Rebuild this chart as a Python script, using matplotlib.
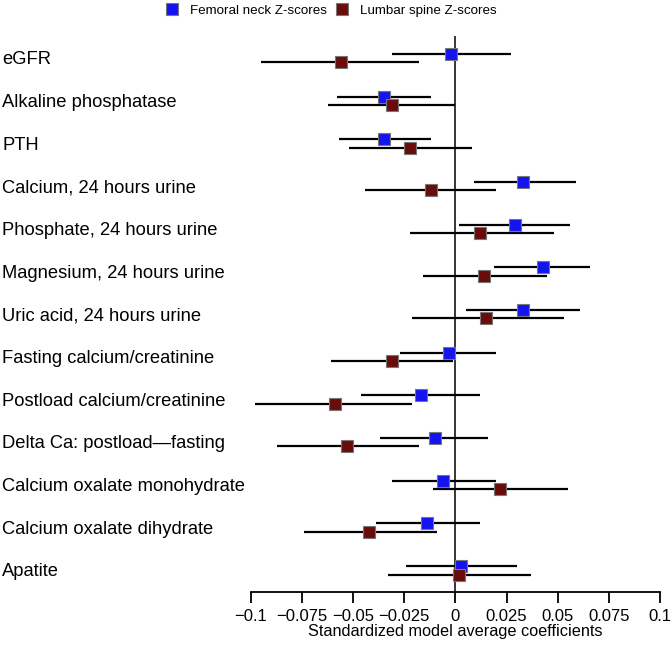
import matplotlib.pyplot as plt
from matplotlib.lines import Line2D
from matplotlib.transforms import blended_transform_factory

labels = ['eGFR', 'Alkaline phosphatase', 'PTH', 'Calcium, 24 hours urine',
          'Phosphate, 24 hours urine', 'Magnesium, 24 hours urine',
          'Uric acid, 24 hours urine', 'Fasting calcium/creatinine',
          'Postload calcium/creatinine', 'Delta Ca: postload\u2014fasting',
          'Calcium oxalate monohydrate', 'Calcium oxalate dihydrate', 'Apatite']

# femoral neck Z-scores: estimate, lower, upper
fn_est = [-0.002, -0.035, -0.035, 0.033, 0.029, 0.043, 0.033, -0.003, -0.017, -0.010, -0.006, -0.014, 0.003]
fn_lo = [-0.031, -0.058, -0.057, 0.009, 0.002, 0.019, 0.005, -0.027, -0.046, -0.037, -0.031, -0.039, -0.024]
fn_hi = [0.027, -0.012, -0.012, 0.059, 0.056, 0.066, 0.061, 0.020, 0.012, 0.016, 0.020, 0.012, 0.030]

# lumbar spine Z-scores: estimate, lower, upper
ls_est = [-0.056, -0.031, -0.022, -0.012, 0.012, 0.014, 0.015, -0.031, -0.059, -0.053, 0.022, -0.042, 0.002]
ls_lo = [-0.095, -0.062, -0.052, -0.044, -0.022, -0.016, -0.021, -0.061, -0.098, -0.087, -0.011, -0.074, -0.033]
ls_hi = [-0.018, 0.000, 0.008, 0.020, 0.048, 0.045, 0.053, -0.001, -0.021, -0.018, 0.055, -0.009, 0.037]

xticks = [-0.1, -0.075, -0.05, -0.025, 0, 0.025, 0.05, 0.075, 0.1]
xticklabels = ['\u22120.1', '\u22120.075', '\u22120.05', '\u22120.025', '0', '0.025', '0.05', '0.075', '0.1']

plt.rcParams['font.family'] = ['Liberation Sans', 'DejaVu Sans']

blue = '#1414f0'
red = '#6a0c0c'

fig = plt.figure(figsize=(6.72, 6.55), dpi=100)
ax = fig.add_axes([250.7 / 672, 1 - 592 / 655, (660 - 250.7) / 672, (592 - 36) / 655])

off = 0.2
for i in range(len(labels)):
    yb = i
    yr = i + off
    ax.plot([fn_lo[i], fn_hi[i]], [yb, yb], color='black', lw=1.6, solid_capstyle='butt', zorder=2)
    ax.plot([ls_lo[i], ls_hi[i]], [yr, yr], color='black', lw=1.6, solid_capstyle='butt', zorder=2)
    ax.plot(fn_est[i], yb, 's', ms=9, mfc=blue, mec='#777777', mew=0.8, zorder=3)
    ax.plot(ls_est[i], yr, 's', ms=9, mfc=red, mec='#777777', mew=0.8, zorder=3)

ax.axvline(0, color='black', lw=1.1, zorder=1)

ax.set_xlim(-0.1, 0.1)
ax.set_ylim(12.61, -0.42)
for s in ['top', 'right', 'left']:
    ax.spines[s].set_visible(False)
ax.spines['bottom'].set_linewidth(1.3)
ax.set_yticks([])
ax.set_xticks(xticks)
ax.set_xticklabels(xticklabels, fontsize=12)
ax.tick_params(axis='x', length=8, width=1.3, pad=4)
ax.set_xlabel('Standardized model average coefficients', fontsize=11.7, labelpad=0)

tr = blended_transform_factory(fig.transFigure, ax.transData)
for i, lab in enumerate(labels):
    ax.text(2 / 672, i + 0.14, lab, transform=tr, ha='left', va='center', fontsize=13.2)

handles = [
    Line2D([], [], marker='s', ls='none', ms=8, mfc=blue, mec='#777777', mew=0.8),
    Line2D([], [], marker='s', ls='none', ms=8, mfc=red, mec='#777777', mew=0.8),
]
fig.legend(handles, ['Femoral neck Z-scores', 'Lumbar spine Z-scores'], loc='center',
           bbox_to_anchor=(331 / 672, 1 - 11 / 655), ncol=2, frameon=False, fontsize=9.6,
           handletextpad=0.9, columnspacing=0.6, handlelength=1.0)

fig.savefig('out.png', dpi=100)
